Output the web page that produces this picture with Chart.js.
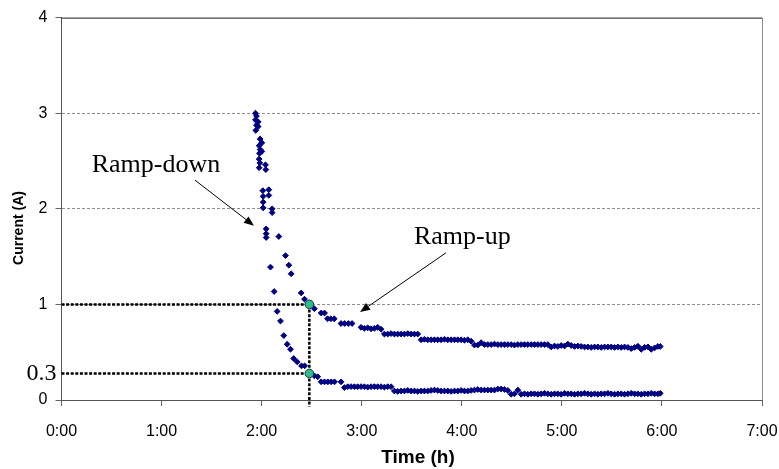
<!DOCTYPE html>
<html>
<head>
<meta charset="utf-8">
<script src="https://cdn.jsdelivr.net/npm/chart.js@4/dist/chart.umd.min.js"></script>
<style>
  html, body { margin: 0; padding: 0; background: #fff; }
  #wrap { width: 779px; height: 469px; position: relative; }
</style>
</head>
<body>
<div id="wrap"><canvas id="canvas"></canvas></div>
<script>
// time in minutes, current in A
const xTickLabels = ["0:00", "1:00", "2:00", "3:00", "4:00", "5:00", "6:00", "7:00"]

const rampDown = [
  [116.3, 3.00], [116.9, 2.97], [116.3, 2.93], [117.9, 2.91], [116.9, 2.875], [117.9, 2.86], [116.5, 2.82],
  [119.1, 2.73], [120.1, 2.69], [118.5, 2.66], [119.1, 2.62], [120.1, 2.60], [118.7, 2.58], [118.5, 2.52],
  [118.9, 2.48], [118.5, 2.43], [122.3, 2.46], [122.5, 2.41],
  [120.7, 2.19], [120.9, 2.13], [120.9, 2.07], [120.9, 2.01],
  [122.7, 1.79], [122.7, 1.74], [122.7, 1.70],
  [125.3, 1.39], [127.5, 1.135], [129.3, 0.927], [131.3, 0.826], [133.3, 0.674], [135.3, 0.583],
  [137.3, 0.531], [139.2, 0.434], [141.3, 0.399], [143.9, 0.357], [145.8, 0.357], [148.6, 0.278],
  [151.6, 0.253], [153.6, 0.243],
  [155.7, 0.19], [157.7, 0.19], [159.7, 0.19], [161.7, 0.19], [163.7, 0.19], [167.6, 0.19],
  [169.6, 0.13], [171.6, 0.139], [173.6, 0.14], [175.6, 0.139], [177.6, 0.139], [179.6, 0.14],
  [181.6, 0.139], [183.6, 0.135], [185.6, 0.139], [187.6, 0.14], [189.6, 0.139], [191.6, 0.139],
  [193.6, 0.135], [195.6, 0.139], [197.6, 0.139],
  [199.6, 0.094], [201.6, 0.09], [203.6, 0.094], [205.6, 0.094], [207.6, 0.1], [209.6, 0.094],
  [211.6, 0.094], [213.6, 0.09], [215.6, 0.094], [217.6, 0.094], [219.6, 0.094], [221.6, 0.1],
  [223.6, 0.104], [225.6, 0.1], [227.6, 0.094], [229.6, 0.094], [231.6, 0.094], [233.6, 0.09],
  [235.6, 0.094], [237.6, 0.094], [239.6, 0.1], [241.6, 0.094], [243.6, 0.094], [245.6, 0.1],
  [247.6, 0.104], [249.6, 0.11],
  [251.6, 0.104], [253.6, 0.104], [255.6, 0.104], [257.6, 0.104], [259.6, 0.104],
  [261.6, 0.115], [263.6, 0.115], [265.6, 0.11], [267.6, 0.10], [269.6, 0.06], [271.6, 0.065], [273.6, 0.104],
  [275.6, 0.06], [277.6, 0.065], [279.6, 0.06], [281.6, 0.065], [283.6, 0.065], [285.6, 0.06],
  [287.6, 0.065], [289.6, 0.07], [291.6, 0.065], [293.6, 0.06], [295.6, 0.065], [297.6, 0.065],
  [299.6, 0.06], [301.6, 0.07], [303.6, 0.065], [305.6, 0.065], [307.6, 0.06], [309.6, 0.065],
  [311.6, 0.065], [313.6, 0.07], [315.6, 0.065], [317.6, 0.06], [319.6, 0.065], [321.6, 0.06],
  [323.6, 0.065], [325.6, 0.065], [327.6, 0.07], [329.6, 0.065], [331.6, 0.06], [333.6, 0.065],
  [335.6, 0.065], [337.6, 0.06], [339.6, 0.065], [341.6, 0.07], [343.6, 0.065], [345.6, 0.065],
  [347.6, 0.06], [349.6, 0.065], [351.6, 0.065], [353.6, 0.07], [355.6, 0.065], [357.6, 0.065],
  [359.0, 0.07]
]

const rampUp = [
  [124.3, 2.20], [124.3, 2.14], [126.3, 2.00], [126.3, 1.96], [130.3, 1.71], [134.3, 1.51],
  [136.3, 1.41], [137.7, 1.32], [143.7, 1.12], [145.7, 1.055], [148.6, 1.0], [151.6, 0.955],
  [155.7, 0.91], [157.7, 0.91], [159.5, 0.85], [161.5, 0.85], [163.5, 0.85],
  [167.6, 0.80], [169.8, 0.80], [172.0, 0.80], [174.2, 0.80],
  [179.6, 0.76], [181.6, 0.75], [183.6, 0.755], [185.6, 0.745], [187.6, 0.75], [189.6, 0.76], [191.6, 0.74],
  [193.6, 0.69], [195.6, 0.69], [197.6, 0.695], [199.6, 0.69], [201.6, 0.69], [203.6, 0.69],
  [205.6, 0.69], [207.6, 0.695], [209.6, 0.69], [211.6, 0.69], [213.6, 0.69],
  [215.6, 0.63], [217.6, 0.635], [219.6, 0.63], [221.6, 0.63], [223.6, 0.63], [225.6, 0.63],
  [227.6, 0.63], [229.6, 0.635], [231.6, 0.63], [233.6, 0.63], [235.6, 0.63], [237.6, 0.63],
  [239.6, 0.63], [241.6, 0.625], [243.6, 0.63], [245.6, 0.615],
  [247.6, 0.575], [249.6, 0.575], [251.6, 0.60],
  [253.6, 0.58], [255.6, 0.58], [257.6, 0.58], [259.6, 0.585], [261.6, 0.58], [263.6, 0.58],
  [265.6, 0.58], [267.6, 0.58], [269.6, 0.58], [271.6, 0.575], [273.6, 0.58], [275.6, 0.58],
  [277.6, 0.58], [279.6, 0.58], [281.6, 0.58], [283.6, 0.58], [285.6, 0.58], [287.6, 0.58],
  [289.6, 0.58], [291.6, 0.58],
  [293.6, 0.555], [295.6, 0.565], [297.6, 0.56], [299.6, 0.57], [301.6, 0.565], [303.6, 0.585],
  [305.6, 0.57], [307.6, 0.56], [309.6, 0.565], [311.6, 0.56],
  [313.6, 0.555], [315.6, 0.555], [317.6, 0.55], [319.6, 0.555], [321.6, 0.555], [323.6, 0.55],
  [325.6, 0.555], [327.6, 0.555], [329.6, 0.555], [331.6, 0.55], [333.6, 0.555], [335.6, 0.55],
  [337.6, 0.555], [339.6, 0.55],
  [341.6, 0.538], [343.6, 0.55], [345.6, 0.562], [347.6, 0.53], [349.6, 0.55], [351.6, 0.556],
  [353.6, 0.53], [355.6, 0.545], [357.6, 0.56], [359.0, 0.56]
]

// the two highlighted readings
const markTime = 148.6
const markLevels = [1.0, 0.278]
const markLabel = "0.3"

const toPoints = pairs => pairs.map(p => ({ x: p[0], y: p[1] }))

const decor = {
  id: "decor",
  beforeDraw(chart) {
    const ctx = chart.ctx
    ctx.save()
    ctx.fillStyle = "#fff"
    ctx.fillRect(0, 0, chart.width, chart.height)
    ctx.restore()
  },
  afterDatasetsDraw(chart) {
    const ctx = chart.ctx
    const { left, right, top, bottom } = chart.chartArea
    const xs = chart.scales.x
    const ys = chart.scales.y

    ctx.save()
    // plot frame: top and right
    ctx.lineWidth = 1
    ctx.strokeStyle = "#1a1a1a"
    ctx.beginPath()
    ctx.moveTo(left, top + 0.5)
    ctx.lineTo(right, top + 0.5)
    ctx.stroke()
    ctx.strokeStyle = "#8a8a8a"
    ctx.beginPath()
    ctx.moveTo(right + 0.5, top)
    ctx.lineTo(right + 0.5, bottom)
    ctx.stroke()

    // label for the lower reading
    ctx.fillStyle = "#000"
    ctx.font = "24px 'Liberation Serif', 'Times New Roman', serif"
    ctx.textAlign = "right"
    ctx.textBaseline = "middle"
    ctx.fillText(markLabel, left - 5, ys.getPixelForValue(markLevels[1]))

    // annotations
    ctx.font = "26px 'Liberation Serif', 'Times New Roman', serif"
    ctx.textAlign = "left"
    ctx.textBaseline = "alphabetic"
    ctx.fillText("Ramp-down", xs.getPixelForValue(18.1), ys.getPixelForValue(2.39))
    ctx.fillText("Ramp-up", xs.getPixelForValue(211.3), ys.getPixelForValue(1.635))

    function arrow(t0, v0, t1, v1) {
      const x0 = xs.getPixelForValue(t0), y0 = ys.getPixelForValue(v0)
      const x1 = xs.getPixelForValue(t1), y1 = ys.getPixelForValue(v1)
      const a = Math.atan2(y1 - y0, x1 - x0)
      const len = 10, half = 4
      ctx.strokeStyle = "#000"
      ctx.lineWidth = 1
      ctx.beginPath()
      ctx.moveTo(x0, y0)
      ctx.lineTo(x1 - Math.cos(a) * len, y1 - Math.sin(a) * len)
      ctx.stroke()
      ctx.beginPath()
      ctx.moveTo(x1, y1)
      ctx.lineTo(x1 - Math.cos(a) * len - Math.sin(a) * half, y1 - Math.sin(a) * len + Math.cos(a) * half)
      ctx.lineTo(x1 - Math.cos(a) * len + Math.sin(a) * half, y1 - Math.sin(a) * len - Math.cos(a) * half)
      ctx.closePath()
      ctx.fillStyle = "#000"
      ctx.fill()
    }
    arrow(80.0, 2.30, 115.4, 1.823)
    arrow(230.5, 1.539, 179.0, 0.92)

    // axis titles
    ctx.fillStyle = "#000"
    ctx.textAlign = "center"
    ctx.textBaseline = "middle"
    ctx.font = "bold 19px 'Liberation Sans', Arial, sans-serif"
    ctx.fillText("Time (h)", 418, 458)
    ctx.translate(19, 228)
    ctx.rotate(-Math.PI / 2)
    ctx.font = "bold 14px 'Liberation Sans', Arial, sans-serif"
    ctx.fillText("Current (A)", 0, 0)
    ctx.restore()
  }
}

const diamond = {
  showLine: false,
  pointStyle: "rectRot",
  pointRadius: 2.9,
  pointBorderWidth: 1,
  backgroundColor: "#000080",
  borderColor: "#000080",
  order: 3
}

const guide = {
  showLine: true,
  pointRadius: 0,
  borderColor: "#000",
  borderWidth: 2.5,
  borderDash: [3, 1.6],
  clip: false,
  order: 2
}

new Chart(document.getElementById("canvas"), {
  type: "scatter",
  data: {
    datasets: [
      {
        label: "marks",
        data: markLevels.map(v => ({ x: markTime, y: v })),
        pointStyle: "circle",
        pointRadius: 4.3,
        pointBorderWidth: 1,
        backgroundColor: "#2dbb92",
        borderColor: "#1c3c38",
        order: 0
      },
      {
        ...guide,
        label: "guide-high",
        data: [{ x: 0, y: markLevels[0] }, { x: markTime, y: markLevels[0] }, { x: markTime, y: -0.07 }]
      },
      {
        ...guide,
        label: "guide-low",
        data: [{ x: 0, y: markLevels[1] }, { x: markTime, y: markLevels[1] }]
      },
      { ...diamond, label: "Ramp-down", data: toPoints(rampDown) },
      { ...diamond, label: "Ramp-up", data: toPoints(rampUp) }
    ]
  },
  options: {
    responsive: true,
    maintainAspectRatio: false,
    animation: false,
    layout: { padding: { top: 16, right: 17, left: 0, bottom: 0 } },
    plugins: {
      legend: { display: false },
      tooltip: { enabled: false }
    },
    scales: {
      x: {
        type: "linear",
        min: 0,
        max: 420,
        afterFit: scale => {
          scale.height = 69
          scale.paddingLeft = 0
          scale.paddingRight = 0
        },
        ticks: {
          stepSize: 60,
          padding: 16,
          color: "#000",
          font: { family: "'Liberation Sans', Arial, sans-serif", size: 16 },
          callback: v => xTickLabels[v / 60]
        },
        grid: {
          drawOnChartArea: false,
          drawTicks: true,
          tickLength: 6,
          tickColor: "#666"
        },
        border: { color: "#555", width: 1 }
      },
      y: {
        min: 0,
        max: 4,
        afterFit: scale => { scale.width = 61.5 },
        ticks: {
          stepSize: 1,
          padding: 8,
          color: "#000",
          font: { family: "'Liberation Sans', Arial, sans-serif", size: 16 }
        },
        grid: {
          color: c => (c.tick && (c.tick.value === 0 || c.tick.value === 4)) ? "rgba(0,0,0,0)" : "#8c8c8c",
          lineWidth: 1,
          tickLength: 6,
          tickColor: "#666"
        },
        border: { color: "#555", width: 1, dash: [3, 2] }
      }
    }
  },
  plugins: [decor]
})
</script>
</body>
</html>
